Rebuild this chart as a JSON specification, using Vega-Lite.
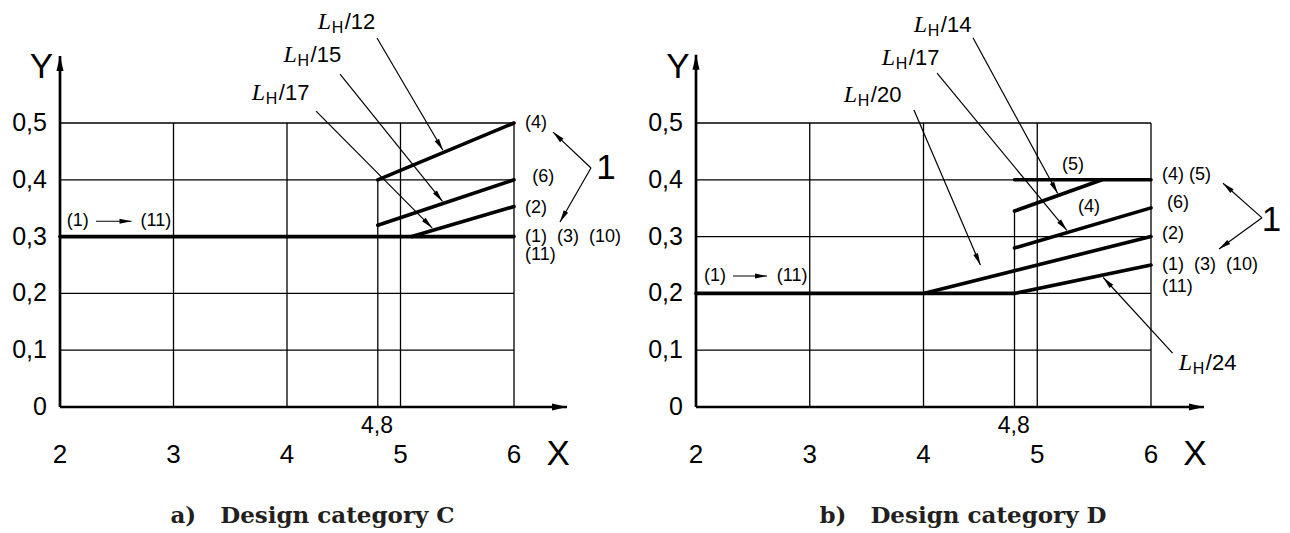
{
  "$schema": "https://vega.github.io/schema/vega-lite/v6.json",
  "width": 1290,
  "height": 533,
  "autosize": {"type": "fit", "contains": "padding"},
  "padding": 0,
  "background": "#ffffff",
  "config": {"view": {"stroke": null}, "axis": {"disable": true}},
  "datasets": {
    "grid": [
      {"p": "a", "x": 2, "y": 0.1, "x2": 6, "y2": 0.1},
      {"p": "a", "x": 2, "y": 0.2, "x2": 6, "y2": 0.2},
      {"p": "a", "x": 2, "y": 0.3, "x2": 6, "y2": 0.3},
      {"p": "a", "x": 2, "y": 0.4, "x2": 6, "y2": 0.4},
      {"p": "a", "x": 2, "y": 0.5, "x2": 6, "y2": 0.5},
      {"p": "a", "x": 3, "y": 0, "x2": 3, "y2": 0.5},
      {"p": "a", "x": 4, "y": 0, "x2": 4, "y2": 0.5},
      {"p": "a", "x": 5, "y": 0, "x2": 5, "y2": 0.5},
      {"p": "a", "x": 6, "y": 0, "x2": 6, "y2": 0.5},
      {"p": "a", "x": 4.8, "y": 0, "x2": 4.8, "y2": 0.4},
      {"p": "b", "x": 2, "y": 0.1, "x2": 6, "y2": 0.1},
      {"p": "b", "x": 2, "y": 0.2, "x2": 6, "y2": 0.2},
      {"p": "b", "x": 2, "y": 0.3, "x2": 6, "y2": 0.3},
      {"p": "b", "x": 2, "y": 0.4, "x2": 6, "y2": 0.4},
      {"p": "b", "x": 2, "y": 0.5, "x2": 6, "y2": 0.5},
      {"p": "b", "x": 3, "y": 0, "x2": 3, "y2": 0.5},
      {"p": "b", "x": 4, "y": 0, "x2": 4, "y2": 0.5},
      {"p": "b", "x": 5, "y": 0, "x2": 5, "y2": 0.5},
      {"p": "b", "x": 6, "y": 0, "x2": 6, "y2": 0.5},
      {"p": "b", "x": 4.8, "y": 0, "x2": 4.8, "y2": 0.345}
    ],
    "thick": [
      {"p": "a", "x": 2, "y": 0.3, "x2": 6, "y2": 0.3},
      {"p": "a", "x": 4.8, "y": 0.4, "x2": 6, "y2": 0.5},
      {"p": "a", "x": 4.8, "y": 0.32, "x2": 6, "y2": 0.4},
      {"p": "a", "x": 5.1, "y": 0.3, "x2": 6, "y2": 0.353},
      {"p": "b", "x": 2, "y": 0.2, "x2": 4.8, "y2": 0.2},
      {"p": "b", "x": 4, "y": 0.2, "x2": 6, "y2": 0.3},
      {"p": "b", "x": 4.8, "y": 0.2, "x2": 6, "y2": 0.25},
      {"p": "b", "x": 4.8, "y": 0.28, "x2": 6, "y2": 0.3506},
      {"p": "b", "x": 4.8, "y": 0.345, "x2": 5.57, "y2": 0.4},
      {"p": "b", "x": 4.8, "y": 0.4, "x2": 6, "y2": 0.4}
    ],
    "lead": [
      {"p": "a", "x": 5.374, "y": 0.452, "x2": 4.793, "y2": 0.6496},
      {"p": "a", "x": 5.37, "y": 0.362, "x2": 4.467, "y2": 0.586},
      {"p": "a", "x": 5.28, "y": 0.315, "x2": 4.256, "y2": 0.521},
      {"p": "a", "x": 2.63, "y": 0.327, "x2": 2.317, "y2": 0.327},
      {"p": "a", "x": 6.344, "y": 0.484, "x2": 6.678, "y2": 0.4208},
      {"p": "a", "x": 6.405, "y": 0.3257, "x2": 6.678, "y2": 0.4208},
      {"p": "b", "x": 5.18, "y": 0.376, "x2": 4.435, "y2": 0.65},
      {"p": "b", "x": 5.26, "y": 0.311, "x2": 4.119, "y2": 0.588},
      {"p": "b", "x": 4.5, "y": 0.25, "x2": 3.916, "y2": 0.523},
      {"p": "b", "x": 5.58, "y": 0.228, "x2": 6.19, "y2": 0.095},
      {"p": "b", "x": 2.624, "y": 0.2306, "x2": 2.325, "y2": 0.2306},
      {"p": "b", "x": 6.633, "y": 0.394, "x2": 6.976, "y2": 0.333},
      {"p": "b", "x": 6.598, "y": 0.278, "x2": 6.976, "y2": 0.333}
    ],
    "axes": [
      {"p": "a", "x": 6.467, "y": 0, "x2": 2, "y2": 0},
      {"p": "a", "x": 2, "y": 0.618, "x2": 2, "y2": 0},
      {"p": "b", "x": 6.466, "y": 0, "x2": 2, "y2": 0},
      {"p": "b", "x": 2, "y": 0.62, "x2": 2, "y2": 0}
    ],
    "lab": [
      {"p": "a", "x": 2.06, "y": 0.327, "t": "(1)"},
      {"p": "a", "x": 2.71, "y": 0.327, "t": "(11)"},
      {"p": "a", "x": 6.097, "y": 0.5, "t": "(4)"},
      {"p": "a", "x": 6.16, "y": 0.405, "t": "(6)"},
      {"p": "a", "x": 6.097, "y": 0.35, "t": "(2)"},
      {"p": "a", "x": 6.097, "y": 0.3, "t": "(1)\u00a0\u00a0(3)\u00a0\u00a0(10)"},
      {"p": "a", "x": 6.097, "y": 0.268, "t": "(11)"},
      {"p": "b", "x": 2.07, "y": 0.2306, "t": "(1)"},
      {"p": "b", "x": 2.71, "y": 0.2306, "t": "(11)"},
      {"p": "b", "x": 5.218, "y": 0.426, "t": "(5)"},
      {"p": "b", "x": 5.358, "y": 0.352, "t": "(4)"},
      {"p": "b", "x": 6.097, "y": 0.408, "t": "(4)\u00a0(5)"},
      {"p": "b", "x": 6.14, "y": 0.359, "t": "(6)"},
      {"p": "b", "x": 6.097, "y": 0.305, "t": "(2)"},
      {"p": "b", "x": 6.097, "y": 0.25, "t": "(1)\u00a0\u00a0(3)\u00a0\u00a0(10)"},
      {"p": "b", "x": 6.097, "y": 0.211, "t": "(11)"}
    ],
    "big": [
      {"p": "a", "x": 6.81, "y": 0.42, "t": "1"},
      {"p": "a", "x": 1.837, "y": 0.598, "t": "Y"},
      {"p": "a", "x": 6.39, "y": -0.082, "t": "X"},
      {"p": "b", "x": 7.06, "y": 0.33, "t": "1"},
      {"p": "b", "x": 1.84, "y": 0.598, "t": "Y"},
      {"p": "b", "x": 6.387, "y": -0.082, "t": "X"}
    ],
    "xtick": [
      {"x": 2, "y": -0.0845, "t": "2"},
      {"x": 3, "y": -0.0845, "t": "3"},
      {"x": 4, "y": -0.0845, "t": "4"},
      {"x": 5, "y": -0.0845, "t": "5"},
      {"x": 6, "y": -0.0845, "t": "6"}
    ],
    "mark48": [
      {"x": 4.793, "y": -0.034, "t": "4,8"}
    ],
    "ytick": [
      {"x": 1.885, "y": 0, "t": "0"},
      {"x": 1.885, "y": 0.1, "t": "0,1"},
      {"x": 1.885, "y": 0.2, "t": "0,2"},
      {"x": 1.885, "y": 0.3, "t": "0,3"},
      {"x": 1.885, "y": 0.4, "t": "0,4"},
      {"x": 1.885, "y": 0.5, "t": "0,5"}
    ],
    "title": [
      {"p": "a", "x": 4.225, "y": -0.2042, "t": "a)\u00a0\u00a0\u00a0Design category C"},
      {"p": "b", "x": 4.347, "y": -0.2042, "t": "b)\u00a0\u00a0\u00a0Design category D"}
    ],
    "lh": [
      {"p": "a", "x": 4.27, "y": 0.6655, "den": "/12"},
      {"p": "a", "x": 3.97, "y": 0.607, "den": "/15"},
      {"p": "a", "x": 3.69, "y": 0.5405, "den": "/17"},
      {"p": "b", "x": 3.915, "y": 0.66, "den": "/14"},
      {"p": "b", "x": 3.634, "y": 0.602, "den": "/17"},
      {"p": "b", "x": 3.3, "y": 0.537, "den": "/20"},
      {"p": "b", "x": 6.245, "y": 0.065, "den": "/24"}
    ]
  },
  "resolve": {"scale": {"x": "independent"}},
  "layer": [
    {
      "encoding": {
        "x": {"field": "x", "type": "quantitative", "scale": {"domain": [1.47137, 12.837], "nice": false, "zero": false}, "axis": null},
        "y": {"field": "y", "type": "quantitative", "scale": {"domain": [-0.22183, 0.71655], "nice": false, "zero": false}, "axis": null}
      },
      "layer": [
        {"data": {"name": "grid"}, "transform": [{"filter": "datum.p=='a'"}], "mark": {"type": "rule", "color": "#000000", "strokeWidth": 1.3}, "encoding": {"x2": {"field": "x2"}, "y2": {"field": "y2"}}},
        {"data": {"name": "thick"}, "transform": [{"filter": "datum.p=='a'"}], "mark": {"type": "rule", "color": "#000000", "strokeWidth": 3.6, "strokeCap": "round"}, "encoding": {"x2": {"field": "x2"}, "y2": {"field": "y2"}}},
        {"data": {"name": "axes"}, "transform": [{"filter": "datum.p=='a'"}], "mark": {"type": "rule", "color": "#000000", "strokeWidth": 2.7}, "encoding": {"x2": {"field": "x2"}, "y2": {"field": "y2"}}},
        {"data": {"name": "axes"}, "transform": [{"filter": "datum.p=='a'"}, {"calculate": "atan2((datum.x-datum.x2)*113.5,(datum.y-datum.y2)*568)*180/PI", "as": "ang"}], "mark": {"type": "point", "shape": "M0,0L-0.47,2L0.47,2Z", "size": 225, "filled": true, "color": "#000000", "opacity": 1, "strokeWidth": 0}, "encoding": {"angle": {"field": "ang", "type": "quantitative", "scale": null}}},
        {"data": {"name": "lead"}, "transform": [{"filter": "datum.p=='a'"}], "mark": {"type": "rule", "color": "#000000", "strokeWidth": 1.2}, "encoding": {"x2": {"field": "x2"}, "y2": {"field": "y2"}}},
        {"data": {"name": "lead"}, "transform": [{"filter": "datum.p=='a'"}, {"calculate": "atan2((datum.x-datum.x2)*113.5,(datum.y-datum.y2)*568)*180/PI", "as": "ang"}], "mark": {"type": "point", "shape": "M0,0L-0.42,2L0.42,2Z", "size": 144, "filled": true, "color": "#000000", "opacity": 1, "strokeWidth": 0}, "encoding": {"angle": {"field": "ang", "type": "quantitative", "scale": null}}},
        {"data": {"name": "lab"}, "transform": [{"filter": "datum.p=='a'"}], "mark": {"type": "text", "align": "left", "baseline": "middle", "font": "Liberation Sans Narrow, Liberation Sans, sans-serif", "fontSize": 18, "color": "#000000"}, "encoding": {"text": {"field": "t"}}},
        {"data": {"name": "big"}, "transform": [{"filter": "datum.p=='a'"}], "mark": {"type": "text", "align": "center", "baseline": "middle", "font": "Liberation Sans, sans-serif", "fontSize": 35, "color": "#000000"}, "encoding": {"text": {"field": "t"}}},
        {"data": {"name": "xtick"}, "mark": {"type": "text", "align": "center", "baseline": "middle", "font": "Liberation Sans, sans-serif", "fontSize": 26, "color": "#000000"}, "encoding": {"text": {"field": "t"}}},
        {"data": {"name": "mark48"}, "mark": {"type": "text", "align": "center", "baseline": "middle", "font": "Liberation Sans, sans-serif", "fontSize": 23, "color": "#000000"}, "encoding": {"text": {"field": "t"}}},
        {"data": {"name": "ytick"}, "mark": {"type": "text", "align": "right", "baseline": "middle", "font": "Liberation Sans, sans-serif", "fontSize": 25, "color": "#000000"}, "encoding": {"text": {"field": "t"}}},
        {"data": {"name": "title"}, "transform": [{"filter": "datum.p=='a'"}], "mark": {"type": "text", "align": "center", "baseline": "alphabetic", "font": "DejaVu Serif", "fontWeight": "bold", "fontSize": 23, "color": "#231f20"}, "encoding": {"text": {"field": "t"}}},
        {"data": {"name": "lh"}, "transform": [{"filter": "datum.p=='a'"}], "mark": {"type": "text", "text": "L", "align": "left", "baseline": "alphabetic", "font": "Liberation Serif, serif", "fontStyle": "italic", "fontSize": 24, "color": "#000000"}, "encoding": {}},
        {"data": {"name": "lh"}, "transform": [{"filter": "datum.p=='a'"}], "mark": {"type": "text", "text": "H", "align": "left", "baseline": "alphabetic", "dx": 14, "dy": 4, "font": "Liberation Sans Narrow, Liberation Sans, sans-serif", "fontSize": 16, "color": "#000000"}, "encoding": {}},
        {"data": {"name": "lh"}, "transform": [{"filter": "datum.p=='a'"}], "mark": {"type": "text", "align": "left", "baseline": "alphabetic", "dx": 27, "font": "Liberation Sans, sans-serif", "fontSize": 22, "color": "#000000"}, "encoding": {"text": {"field": "den"}}}
      ]
    },
    {
      "encoding": {
        "x": {"field": "x", "type": "quantitative", "scale": {"domain": [-4.11868, 7.22198], "nice": false, "zero": false}, "axis": null},
        "y": {"field": "y", "type": "quantitative", "scale": {"domain": [-0.22183, 0.71655], "nice": false, "zero": false}, "axis": null}
      },
      "layer": [
        {"data": {"name": "grid"}, "transform": [{"filter": "datum.p=='b'"}], "mark": {"type": "rule", "color": "#000000", "strokeWidth": 1.3}, "encoding": {"x2": {"field": "x2"}, "y2": {"field": "y2"}}},
        {"data": {"name": "thick"}, "transform": [{"filter": "datum.p=='b'"}], "mark": {"type": "rule", "color": "#000000", "strokeWidth": 3.6, "strokeCap": "round"}, "encoding": {"x2": {"field": "x2"}, "y2": {"field": "y2"}}},
        {"data": {"name": "axes"}, "transform": [{"filter": "datum.p=='b'"}], "mark": {"type": "rule", "color": "#000000", "strokeWidth": 2.7}, "encoding": {"x2": {"field": "x2"}, "y2": {"field": "y2"}}},
        {"data": {"name": "axes"}, "transform": [{"filter": "datum.p=='b'"}, {"calculate": "atan2((datum.x-datum.x2)*113.75,(datum.y-datum.y2)*568)*180/PI", "as": "ang"}], "mark": {"type": "point", "shape": "M0,0L-0.47,2L0.47,2Z", "size": 225, "filled": true, "color": "#000000", "opacity": 1, "strokeWidth": 0}, "encoding": {"angle": {"field": "ang", "type": "quantitative", "scale": null}}},
        {"data": {"name": "lead"}, "transform": [{"filter": "datum.p=='b'"}], "mark": {"type": "rule", "color": "#000000", "strokeWidth": 1.2}, "encoding": {"x2": {"field": "x2"}, "y2": {"field": "y2"}}},
        {"data": {"name": "lead"}, "transform": [{"filter": "datum.p=='b'"}, {"calculate": "atan2((datum.x-datum.x2)*113.75,(datum.y-datum.y2)*568)*180/PI", "as": "ang"}], "mark": {"type": "point", "shape": "M0,0L-0.42,2L0.42,2Z", "size": 144, "filled": true, "color": "#000000", "opacity": 1, "strokeWidth": 0}, "encoding": {"angle": {"field": "ang", "type": "quantitative", "scale": null}}},
        {"data": {"name": "lab"}, "transform": [{"filter": "datum.p=='b'"}], "mark": {"type": "text", "align": "left", "baseline": "middle", "font": "Liberation Sans Narrow, Liberation Sans, sans-serif", "fontSize": 18, "color": "#000000"}, "encoding": {"text": {"field": "t"}}},
        {"data": {"name": "big"}, "transform": [{"filter": "datum.p=='b'"}], "mark": {"type": "text", "align": "center", "baseline": "middle", "font": "Liberation Sans, sans-serif", "fontSize": 35, "color": "#000000"}, "encoding": {"text": {"field": "t"}}},
        {"data": {"name": "xtick"}, "mark": {"type": "text", "align": "center", "baseline": "middle", "font": "Liberation Sans, sans-serif", "fontSize": 26, "color": "#000000"}, "encoding": {"text": {"field": "t"}}},
        {"data": {"name": "mark48"}, "mark": {"type": "text", "align": "center", "baseline": "middle", "font": "Liberation Sans, sans-serif", "fontSize": 23, "color": "#000000"}, "encoding": {"text": {"field": "t"}}},
        {"data": {"name": "ytick"}, "mark": {"type": "text", "align": "right", "baseline": "middle", "font": "Liberation Sans, sans-serif", "fontSize": 25, "color": "#000000"}, "encoding": {"text": {"field": "t"}}},
        {"data": {"name": "title"}, "transform": [{"filter": "datum.p=='b'"}], "mark": {"type": "text", "align": "center", "baseline": "alphabetic", "font": "DejaVu Serif", "fontWeight": "bold", "fontSize": 23, "color": "#231f20"}, "encoding": {"text": {"field": "t"}}},
        {"data": {"name": "lh"}, "transform": [{"filter": "datum.p=='b'"}], "mark": {"type": "text", "text": "L", "align": "left", "baseline": "alphabetic", "font": "Liberation Serif, serif", "fontStyle": "italic", "fontSize": 24, "color": "#000000"}, "encoding": {}},
        {"data": {"name": "lh"}, "transform": [{"filter": "datum.p=='b'"}], "mark": {"type": "text", "text": "H", "align": "left", "baseline": "alphabetic", "dx": 14, "dy": 4, "font": "Liberation Sans Narrow, Liberation Sans, sans-serif", "fontSize": 16, "color": "#000000"}, "encoding": {}},
        {"data": {"name": "lh"}, "transform": [{"filter": "datum.p=='b'"}], "mark": {"type": "text", "align": "left", "baseline": "alphabetic", "dx": 27, "font": "Liberation Sans, sans-serif", "fontSize": 22, "color": "#000000"}, "encoding": {"text": {"field": "den"}}}
      ]
    }
  ]
}
